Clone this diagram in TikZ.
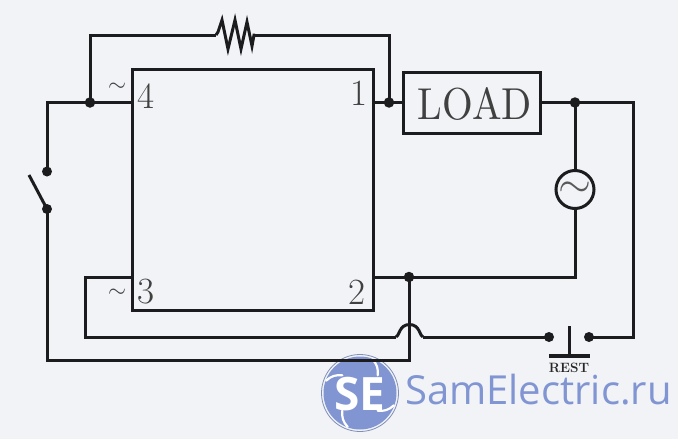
\documentclass[tikz,border=0pt]{standalone}
\usepackage{fontspec}
\usepackage{graphicx}
\newfontfamily\wmfont{Open Sans}
\definecolor{bgc}{HTML}{F1F3F6}
\definecolor{wire}{HTML}{1C1C1E}
\definecolor{wm}{HTML}{8095D2}
\tikzset{
  x=1pt,y=-1pt,
  wirel/.style={draw=wire,line width=3pt,line join=miter},
  jdot/.style={circle,fill=wire,draw=none,inner sep=0pt,minimum size=10.5pt},
  tdot/.style={circle,fill=wire,draw=none,inner sep=0pt,minimum size=10pt},
  pin/.style={inner sep=0pt,text=black!75,font=\fontsize{37}{37}\selectfont},
  box/.style={draw=wire,line width=3pt,inner sep=0pt,outer sep=0pt,anchor=north west},
}
\begin{document}
\begin{tikzpicture}
\useasboundingbox (0,0) rectangle (678,439);
\fill[bgc] (0,0) rectangle (678,439);
% watermark
\node[circle,fill=wm,draw=none,minimum size=73pt,inner sep=0pt] (logo) at (360,393) {};
\draw[wm!70!gray,line width=0.8pt] (360,393) circle (38.5);
\foreach \a in {20,110,200,290}{
  \draw[white,line width=2.2pt,line cap=round] ([shift={(\a:36)}]360,393) to[bend left=25] ([shift={(\a+25:25)}]360,393);
}
\node[inner sep=0pt,text=white,font=\wmfont\bfseries\fontsize{46}{46}\selectfont] (se) at (360,394) {SE};
\node[anchor=base west,inner sep=0pt,text=wm,font=\wmfont\fontsize{40}{40}\selectfont] (site) at (405,404) {SamElectric.ru};
% IC and load
\node[box,minimum width=241pt,minimum height=240.5pt] (ic) at (132.5,69.5) {};
\node[box,minimum width=137pt,minimum height=61pt] (load) at (403,72) {};
\node[inner sep=0pt,text=black!75] (loadt) at (475,103.5) {\resizebox{114pt}{32pt}{LOAD}};
\node[circle,draw=wire,line width=3pt,outer sep=0pt,minimum size=38pt,inner sep=0pt] (src) at (575,189.5) {};
\node[inner sep=0pt,text=black!65] (srct) at (575,189.5) {\resizebox{33pt}{!}{$\sim$}};
% pin labels
\node[pin] (p1) at (358.5,93.5) {1};
\node[pin] (p2) at (357,292) {2};
\node[pin] (p3) at (146,292) {3};
\node[pin] (p4) at (146,96.5) {4};
\node[inner sep=0pt,text=black!75] (t4) at (117,87.5) {\resizebox{18pt}{!}{$\sim$}};
\node[inner sep=0pt,text=black!75] (t3) at (117,293) {\resizebox{18pt}{!}{$\sim$}};
% junctions and terminals
\node[jdot] (j4) at (90,102.5) {};
\node[jdot] (j1) at (389,102.5) {};
\node[jdot] (jl) at (575,102.5) {};
\node[jdot] (j2) at (409,277) {};
\node[tdot] (s1) at (47,171.5) {};
\node[tdot] (s2) at (47,209) {};
\node[tdot] (b1) at (549,337) {};
\node[tdot] (b2) at (589,337) {};
\coordinate (c4) at (132.5,102.5);
\coordinate (c1) at (373.5,102.5);
\coordinate (c2) at (373.5,277);
\coordinate (c3) at (132.5,277);
\coordinate (rl) at (216,35);
\coordinate (rr) at (255,35);
\coordinate (bot) at (409,360);
\coordinate (hl) at (396,337);
\coordinate (hr) at (423,337);
\coordinate (ll) at (403,102.5);
\coordinate (lr) at (540,102.5);
% wires
\draw[wirel] (s1.center) -- (47,102.5) -- (c4);
\draw[wirel] (j4.center) |- (rl);
\draw[wirel] (rl) -- (218,32) -- (222,20) -- (228,49) -- (235,20) -- (241,49) -- (247,22) -- (252,46) -- (254,35) -- (rr);
\draw[wirel] (rr) -| (j1.center);
\draw[wirel] (c1) -- (ll);
\draw[wirel] (lr) -- (633,102.5) |- (b2.center);
\draw[wirel] (jl.center) -- (src.north);
\draw[wirel] (src.south) -- (575,277) -- (c2);
\draw[wirel] (j2.center) -- (bot) -- (47,360) -- (s2.center);
\draw[wirel] (s2.center) -- (29,175);
\draw[wirel] (c3) -- (85,277) -- (85,337) -- (hl);
\draw[wirel] (hl) .. controls (399,337) and (399,324.5) .. (409.5,324.5) .. controls (420,324.5) and (420,337) .. (hr);
\draw[wirel] (hr) -- (b1.center);
% push button
\coordinate (bt) at (569,326);
\coordinate (bb) at (569,356);
\coordinate (bl) at (549,356);
\coordinate (br) at (589.5,356);
\draw[wirel] (bt) -- (bb);
\draw[wirel,line width=3.4pt] (bl) -- (br);
\node[inner sep=0pt,font=\bfseries\fontsize{13.5}{13.5}\selectfont,text=black!85] (rest) at (569,367.5) {REST};
\end{tikzpicture}
\end{document}
